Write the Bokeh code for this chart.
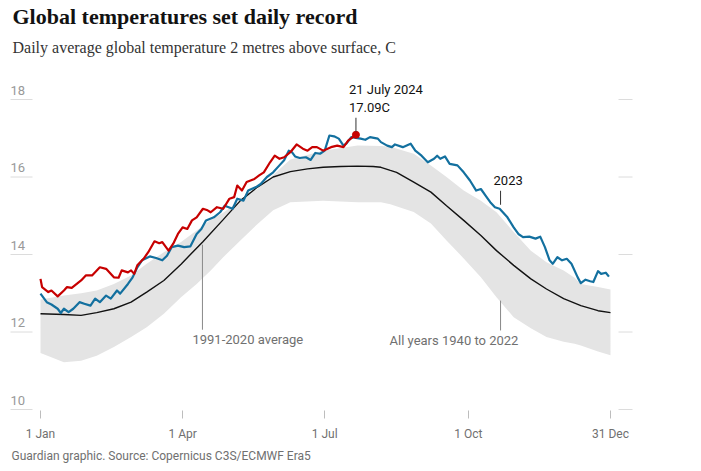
from bokeh.plotting import figure
from bokeh.models import Range1d, FixedTicker, Label, Title
from bokeh.core.properties import value
from bokeh.embed import file_html
from bokeh.resources import INLINE

# ---------------- data ----------------
title_text = "Global temperatures set daily record"
subtitle_text = "Daily average global temperature 2 metres above surface, C"
source_text = "Guardian graphic. Source: Copernicus C3S/ECMWF Era5"

tick_days = [0, 91, 182, 274, 365]
tick_labels = ["1 Jan", "1 Apr", "1 Jul", "1 Oct", "31 Dec"]
y_ticks = [10, 12, 14, 16, 18]

# 2024 (red), day of year (0 = 1 Jan)
days_2024 = [0, 1, 5, 7, 11, 15, 17, 20, 26, 29, 33, 38, 42, 47, 50, 52, 56, 58, 60, 62,
             66, 69, 73, 76, 78, 82, 85, 88, 91, 94, 97, 100, 104, 107, 109, 113, 117, 121,
             124, 126, 129, 132, 137, 140, 143, 147, 150, 153, 156, 160, 164, 168, 171, 174,
             177, 181, 186, 190, 194, 197, 202]
temp_2024 = [13.37, 13.16, 13.03, 13.07, 12.92, 13.07, 13.16, 13.14, 13.33, 13.46, 13.46,
             13.67, 13.63, 13.41, 13.40, 13.59, 13.54, 13.59, 13.50, 13.72, 13.89, 14.06,
             14.34, 14.29, 14.32, 14.10, 14.28, 14.53, 14.70, 14.66, 14.88, 14.96, 15.18,
             15.14, 15.09, 15.22, 15.18, 15.44, 15.48, 15.78, 15.65, 15.87, 15.95, 16.04,
             16.12, 16.38, 16.55, 16.47, 16.51, 16.64, 16.84, 16.73, 16.68, 16.77, 16.77,
             16.68, 16.77, 16.81, 16.77, 16.94, 17.09]

# 2023 (blue)
days_2023 = [0, 4, 7, 11, 13, 15, 18, 21, 25, 28, 32, 35, 38, 42, 45, 49, 51, 56, 59, 62,
             65, 67, 70, 74, 78, 81, 84, 88, 92, 96, 100, 103, 106, 111, 115, 118, 123, 126,
             130, 133, 138, 141, 145, 149, 153, 156, 159, 161, 163, 166, 170, 173, 176, 179,
             182, 185, 188, 191, 194, 196, 199, 202, 205, 208, 211, 216, 218, 222, 225, 227,
             232, 237, 240, 244, 248, 252, 254, 256, 259, 262, 267, 271, 275, 279, 282, 285,
             288, 291, 294, 299, 303, 306, 309, 313, 317, 320, 323, 326, 328, 331, 334, 337,
             340, 344, 346, 349, 352, 354, 357, 359, 362, 364]
temp_2023 = [12.99, 12.77, 12.71, 12.60, 12.49, 12.60, 12.51, 12.60, 12.77, 12.73, 12.68,
             12.86, 12.77, 12.94, 12.86, 13.07, 12.99, 13.24, 13.41, 13.67, 13.85, 13.89,
             13.95, 13.91, 13.85, 13.97, 14.19, 14.23, 14.19, 14.21, 14.53, 14.66, 14.88,
             14.96, 15.09, 15.26, 15.18, 15.44, 15.39, 15.65, 15.74, 15.82, 16.00, 16.12,
             16.30, 16.43, 16.68, 16.64, 16.53, 16.49, 16.51, 16.44, 16.62, 16.60, 16.68,
             17.07, 17.05, 16.99, 16.81, 16.87, 17.03, 17.01, 16.99, 16.96, 17.03, 16.99,
             16.90, 16.81, 16.77, 16.84, 16.77, 16.86, 16.68, 16.55, 16.38, 16.47, 16.55,
             16.47, 16.53, 16.34, 16.30, 16.12, 15.91, 15.65, 15.69, 15.52, 15.35, 15.22,
             15.18, 14.96, 14.70, 14.53, 14.45, 14.46, 14.41, 14.46, 14.19, 13.85, 13.76,
             13.93, 13.85, 13.89, 13.76, 13.41, 13.26, 13.35, 13.31, 13.29, 13.57, 13.50,
             13.53, 13.43]

# 1991-2020 average (black)
days_avg = [0, 15, 26, 36, 47, 58, 68, 79, 90, 96, 104, 117, 128, 139, 149, 160, 171, 181,
            192, 203, 213, 218, 224, 228, 239, 250, 260, 271, 282, 292, 303, 314, 324, 335,
            346, 357, 365]
temp_avg = [12.47, 12.45, 12.43, 12.50, 12.60, 12.77, 13.03, 13.33, 13.75, 14.00, 14.33,
            14.90, 15.39, 15.74, 16.00, 16.14, 16.21, 16.25, 16.27, 16.28, 16.27, 16.25,
            16.17, 16.12, 15.87, 15.61, 15.26, 14.88, 14.49, 14.10, 13.72, 13.37, 13.11,
            12.86, 12.68, 12.55, 12.50]

# All years 1940-2022: envelope of the grey band
days_band = [0, 15, 26, 36, 47, 58, 68, 79, 90, 100, 109, 117, 128, 139, 149, 160, 181,
             203, 218, 224, 239, 250, 260, 271, 282, 292, 303, 314, 324, 335, 342, 346, 357,
             365]
band_high = [12.84, 12.94, 13.00, 13.07, 13.24, 13.46, 13.76, 14.06, 14.32, 14.62, 14.90,
             15.08, 15.40, 15.70, 16.05, 16.45, 16.68, 16.81, 16.80, 16.78, 16.60, 16.30,
             16.00, 15.65, 15.39, 15.09, 14.58, 14.10, 13.80, 13.59, 13.40, 13.24, 13.16,
             13.10]
band_low = [11.46, 11.22, 11.26, 11.39, 11.61, 11.87, 12.12, 12.47, 12.90, 13.24, 13.59,
            13.93, 14.36, 14.79, 15.14, 15.35, 15.39, 15.35, 15.35, 15.30, 15.10, 14.80,
            14.36, 13.90, 13.41, 12.90, 12.38, 12.10, 11.87, 11.75, 11.70, 11.65, 11.50,
            11.40]

record_day = 202
record_temp = 17.09
record_date = "21 July 2024"
record_value = "17.09C"
label_2023 = "2023"
label_avg = "1991-2020 average"
label_all = "All years 1940 to 2022"

# ---------------- geometry ----------------
W, H = 701, 471
FRAME_H = 410
PX_DAY = 570 / 365.0      # pixels per day
PX_DEG = 38.75            # pixels per degree
LEFT_PX = 40              # pixel of day 0


def dx(px):
    return px / PX_DAY


def dy(px):
    return px / PX_DEG


x_start = -dx(LEFT_PX)
x_end = dx(W - LEFT_PX)
y_start = y_ticks[0] - dy(1)
y_end = y_start + dy(FRAME_H)

RED = "#c70000"
BLUE = "#13709f"
INK = "#121212"
GREY_TXT = "#707070"

p = figure(width=W, height=H, x_range=Range1d(x_start, x_end),
           y_range=Range1d(y_start, y_end), output_backend="svg",
           toolbar_location=None, y_axis_location=None,
           min_border_left=0, min_border_right=0, min_border_top=0,
           min_border_bottom=H - FRAME_H)
p.outline_line_color = None
p.grid.visible = False
p.background_fill_color = "white"
p.border_fill_color = "white"

ax = p.xaxis[0]
ax.ticker = FixedTicker(ticks=tick_days)
ax.major_label_overrides = {d: t for d, t in zip(tick_days, tick_labels)}
ax.axis_line_color = None
ax.major_tick_line_color = "#bdbdbd"
ax.major_tick_in = 0
ax.major_tick_out = 8
ax.minor_tick_line_color = None
ax.major_label_text_font = "Roboto"
ax.major_label_text_font_size = "12px"
ax.major_label_text_color = GREY_TXT
ax.major_label_standoff = 8

# source line under the axis
p.add_layout(Title(text=source_text, align="left", offset=11, text_font="Roboto",
                   text_font_size="12px", text_font_style="normal",
                   text_color=GREY_TXT, standoff=6), "below")

# short grid marks at both ends
n = len(y_ticks)
p.segment(x0=[x_start + dx(10)] * n, x1=[x_start + dx(32)] * n, y0=y_ticks, y1=y_ticks,
          line_color="#dcdcdc", line_width=1)
p.segment(x0=[x_start + dx(618)] * n, x1=[x_start + dx(632)] * n, y0=y_ticks, y1=y_ticks,
          line_color="#dcdcdc", line_width=1)
p.text(x=[x_start + dx(10)] * n, y=y_ticks, text=[str(v) for v in y_ticks],
       text_font=value("Roboto"), text_font_size="13px", text_color="#999999",
       text_baseline="bottom", text_align="left", y_offset=-5)

# grey band, average, 2023, 2024
p.varea(x=days_band, y1=band_low, y2=band_high, fill_color="#e4e4e4")
p.line(days_avg, temp_avg, line_color=INK, line_width=1.4)
p.line(days_2023, temp_2023, line_color=BLUE, line_width=2.2, line_join="round")
p.line(days_2024, temp_2024, line_color=RED, line_width=2.2, line_join="round")
p.scatter([record_day], [record_temp], size=7, fill_color=RED, line_color=RED)

# annotations
txt = dict(text_font=value("Roboto"), text_font_size="13px", text_baseline="middle",
           text_align="left")
p.segment(x0=[record_day], x1=[record_day], y0=[record_temp + dy(3)],
          y1=[record_temp + dy(17)], line_color="#333333", line_width=1)
p.text(x=[record_day], y=[record_temp], text=[record_date], x_offset=-7, y_offset=-45,
       text_color=INK, **txt)
p.text(x=[record_day], y=[record_temp], text=[record_value], x_offset=-7, y_offset=-27,
       text_color=INK, **txt)

d23 = 294.6
t23 = temp_2023[days_2023.index(294)]
p.segment(x0=[d23], x1=[d23], y0=[t23 + dy(4)], y1=[t23 + dy(18)],
          line_color="#333333", line_width=1)
p.text(x=[d23], y=[t23], text=[label_2023], x_offset=-7, y_offset=-28,
       text_color=INK, **txt)

davg = 103.7
tavg = temp_avg[days_avg.index(104)]
p.segment(x0=[davg], x1=[davg], y0=[tavg - dy(3)], y1=[tavg - dy(88)],
          line_color="#888888", line_width=1)
p.text(x=[davg], y=[tavg], text=[label_avg], x_offset=-10, y_offset=98,
       text_color=GREY_TXT, **txt)

dall = 294.6
p.segment(x0=[dall], x1=[dall], y0=[12.81], y1=[12.04],
          line_color="#888888", line_width=1)
p.text(x=[dall], y=[12.04], text=[label_all], x_offset=-111, y_offset=10,
       text_color=GREY_TXT, **txt)

# titles
p.add_layout(Label(x=12, y=FRAME_H - 16, x_units="screen", y_units="screen",
                   text=title_text, text_font="Liberation Serif",
                   text_font_style="bold", text_font_size="22px", text_color=INK,
                   text_baseline="middle"))
p.add_layout(Label(x=12, y=FRAME_H - 47, x_units="screen", y_units="screen",
                   text=subtitle_text, text_font="Liberation Serif",
                   text_font_size="16px", text_color="#333333", text_baseline="middle"))

open("out.html", "w").write(file_html(p, INLINE))
